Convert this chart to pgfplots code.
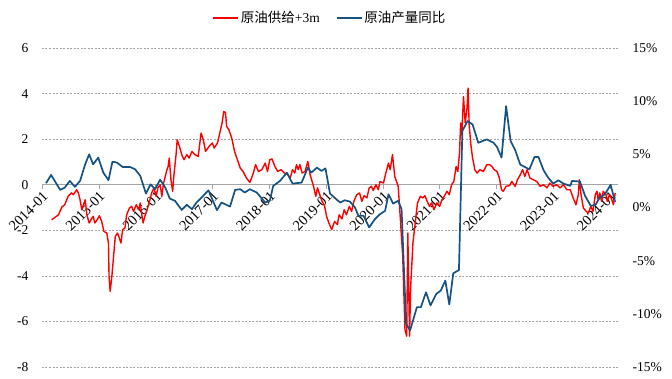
\documentclass[border=0pt]{standalone}
\usepackage{fontspec}
\setmainfont{Liberation Serif}
\newfontfamily\cjk{Noto Sans CJK SC}
\usepackage{pgfplots}
\usepackage{pgfplotstable}
\pgfplotsset{compat=1.18}
\definecolor{oilred}{RGB}{255,0,0}
\definecolor{oilblue}{RGB}{22,82,130}
\definecolor{gridgray}{RGB}{165,165,165}

\pgfplotstableread{
x y
2014.17 -1.54
2014.23 -1.43
2014.29 -1.32
2014.35 -0.98
2014.40 -0.88
2014.46 -0.51
2014.52 -0.36
2014.55 -0.44
2014.61 -0.22
2014.64 -0.36
2014.67 -0.66
2014.70 -1.10
2014.73 -0.88
2014.76 -0.66
2014.79 -1.32
2014.83 -1.68
2014.88 -1.46
2014.90 -1.39
2014.93 -1.68
2014.97 -1.54
2015.01 -1.36
2015.05 -1.61
2015.09 -2.05
2015.14 -2.12
2015.17 -2.56
2015.18 -4.02
2015.20 -4.68
2015.23 -4.02
2015.26 -3.14
2015.29 -2.27
2015.33 -2.12
2015.36 -2.34
2015.39 -2.56
2015.42 -1.97
2015.46 -1.90
2015.49 -1.32
2015.54 -1.02
2015.58 -0.95
2015.61 -1.17
2015.66 -0.88
2015.70 -1.10
2015.73 -0.80
2015.76 -1.39
2015.78 -1.68
2015.81 -1.39
2015.85 -1.10
2015.90 -0.66
2015.93 -0.36
2015.97 -0.14
2016.01 -0.51
2016.04 -0.14
2016.08 0.00
2016.11 -0.51
2016.14 0.07
2016.17 0.36
2016.20 0.66
2016.22 0.80
2016.24 1.17
2016.27 0.22
2016.30 -0.29
2016.32 0.36
2016.36 1.32
2016.38 1.97
2016.42 1.68
2016.46 1.32
2016.50 1.10
2016.55 1.32
2016.59 1.17
2016.64 1.46
2016.69 1.32
2016.75 1.24
2016.80 2.27
2016.84 1.97
2016.88 1.46
2016.94 1.68
2017.00 1.83
2017.03 1.61
2017.09 1.83
2017.13 2.27
2017.17 2.71
2017.20 3.21
2017.23 3.17
2017.25 2.56
2017.29 2.41
2017.34 2.05
2017.39 1.46
2017.43 1.17
2017.49 0.73
2017.54 0.58
2017.60 0.29
2017.66 0.10
2017.72 0.51
2017.76 0.88
2017.81 0.58
2017.87 0.66
2017.93 0.95
2017.97 0.58
2018.01 1.10
2018.05 1.13
2018.10 0.80
2018.15 0.58
2018.21 0.66
2018.27 0.51
2018.33 0.44
2018.37 0.29
2018.41 0.66
2018.45 0.51
2018.48 0.88
2018.51 0.66
2018.54 0.88
2018.58 0.51
2018.63 0.58
2018.68 1.02
2018.72 0.44
2018.78 -0.07
2018.82 -0.51
2018.85 -0.14
2018.89 -0.44
2018.93 -0.73
2018.97 -0.88
2019.01 -1.39
2019.05 -1.68
2019.10 -1.97
2019.15 -1.61
2019.20 -1.75
2019.23 -1.32
2019.28 -1.50
2019.32 -1.10
2019.36 -1.32
2019.41 -0.95
2019.45 -1.17
2019.49 -0.73
2019.54 -0.44
2019.59 -0.36
2019.63 -0.73
2019.67 -0.48
2019.72 -0.58
2019.76 -0.14
2019.80 -0.07
2019.83 -0.25
2019.88 0.00
2019.92 -0.22
2019.95 0.14
2020.01 0.07
2020.06 0.58
2020.10 0.95
2020.13 0.66
2020.17 1.32
2020.21 0.36
2020.27 -0.07
2020.30 -1.17
2020.35 -3.14
2020.39 -6.36
2020.42 -6.65
2020.44 -2.12
2020.47 -6.65
2020.49 -4.46
2020.53 -2.56
2020.57 -1.68
2020.61 -0.80
2020.66 -0.51
2020.70 -0.58
2020.74 -0.48
2020.78 -0.73
2020.82 -0.95
2020.86 -0.80
2020.90 -1.10
2020.95 -0.80
2021.00 -0.95
2021.04 -0.66
2021.08 -0.51
2021.13 -0.29
2021.17 -0.44
2021.21 0.00
2021.25 0.14
2021.29 0.80
2021.32 0.58
2021.35 1.39
2021.37 2.71
2021.39 2.19
2021.42 3.87
2021.45 2.71
2021.48 3.29
2021.50 4.24
2021.52 2.63
2021.55 1.75
2021.58 1.17
2021.62 0.66
2021.66 0.51
2021.71 0.66
2021.77 0.58
2021.83 0.88
2021.88 0.88
2021.92 0.80
2021.96 0.66
2022.01 0.58
2022.05 0.31
2022.09 -0.22
2022.12 -0.29
2022.17 -0.07
2022.23 -0.04
2022.27 0.14
2022.33 -0.07
2022.37 0.22
2022.42 0.44
2022.46 0.66
2022.50 0.36
2022.54 0.66
2022.59 0.29
2022.65 0.22
2022.71 0.14
2022.77 -0.07
2022.83 0.00
2022.89 -0.14
2022.94 0.07
2023.00 -0.07
2023.06 0.00
2023.12 -0.14
2023.18 0.00
2023.24 -0.22
2023.30 -0.22
2023.35 -0.58
2023.40 -0.88
2023.44 -0.44
2023.46 0.22
2023.49 -0.44
2023.53 -1.02
2023.58 -1.17
2023.62 -1.24
2023.66 -0.95
2023.70 -1.17
2023.74 -0.44
2023.77 -0.29
2023.79 -0.66
2023.82 -0.36
2023.85 -0.73
2023.88 -0.29
2023.93 -0.44
2023.95 -0.73
2023.99 -0.44
2024.02 -0.58
2024.06 -0.88
2024.09 -0.36
}\supply

\pgfplotstableread{
x y
2014.07 2.28
2014.16 3.06
2014.32 1.66
2014.40 1.87
2014.49 2.50
2014.58 1.94
2014.67 2.50
2014.76 4.06
2014.83 5.00
2014.90 4.06
2014.99 4.69
2015.08 3.28
2015.17 2.56
2015.24 4.31
2015.32 4.22
2015.42 3.81
2015.55 3.81
2015.64 3.59
2015.73 2.97
2015.83 1.31
2015.91 2.18
2015.99 1.72
2016.08 2.62
2016.17 1.87
2016.25 0.84
2016.34 0.63
2016.46 -0.23
2016.55 0.25
2016.64 -0.16
2016.72 0.47
2016.81 0.94
2016.93 1.62
2017.08 -0.25
2017.16 0.47
2017.31 0.09
2017.40 1.66
2017.49 1.72
2017.57 1.41
2017.66 1.72
2017.78 1.41
2017.93 0.47
2018.01 0.63
2018.07 2.03
2018.19 2.50
2018.31 3.28
2018.41 2.25
2018.57 2.34
2018.68 3.75
2018.74 3.28
2018.84 3.75
2018.92 3.44
2018.99 3.68
2019.07 1.31
2019.18 0.78
2019.25 0.47
2019.33 0.68
2019.42 0.56
2019.51 0.00
2019.57 -0.78
2019.66 -0.78
2019.76 -1.87
2019.86 -1.10
2019.95 -0.63
2020.04 -0.31
2020.10 1.25
2020.18 0.37
2020.27 0.63
2020.33 -0.16
2020.41 -10.94
2020.48 -11.56
2020.60 -9.37
2020.67 -9.37
2020.76 -7.97
2020.84 -9.21
2020.94 -8.13
2021.02 -7.81
2021.10 -6.87
2021.17 -9.12
2021.24 -6.19
2021.34 -5.88
2021.40 7.19
2021.49 8.13
2021.58 7.81
2021.68 6.09
2021.83 6.40
2021.95 6.09
2022.01 5.69
2022.09 4.69
2022.17 9.53
2022.25 6.25
2022.33 5.39
2022.42 4.03
2022.58 3.59
2022.67 4.75
2022.74 4.75
2022.83 3.50
2022.91 2.81
2023.00 2.25
2023.09 2.56
2023.18 2.25
2023.30 2.03
2023.33 2.50
2023.47 2.44
2023.56 1.10
2023.66 0.16
2023.74 0.22
2023.82 0.94
2023.91 1.25
2024.01 2.13
2024.09 0.53
}\output

\begin{document}
\begin{tikzpicture}
\pgfplotsset{
  base/.style={
    scale only axis, width=576pt, height=319pt,
    at={(42pt,11pt)}, anchor=south west,
    xmin=2014, xmax=2024.14,
    font=\fontsize{13.5pt}{16pt}\selectfont,
    clip=false,
  }
}
\begin{axis}[base,
  ymin=-8, ymax=6,
  ytick={-8,-6,-4,-2,0,2,4,6},
  yticklabels={-8,-6,-4,-2,0,2,4,6},
  axis x line=middle,
  axis y line=left,
  hide obscured x ticks=false,
  every inner x axis line/.append style={-},
  x axis line style={-, draw=gridgray, line width=0.8pt},
  y axis line style={draw=none},
  ytick style={draw=none},
  xtick={2014,2015,2016,2017,2018,2019,2020,2021,2022,2023,2024},
  xticklabels={2014-01,2015-01,2016-01,2017-01,2018-01,2019-01,2020-01,2021-01,2022-01,2023-01,2024-01},
  tick align=outside,
  major tick length=4pt,
  xtick style={draw=gridgray, line width=0.6pt},
  xticklabel style={rotate=45, anchor=north east, inner sep=1pt, font=\fontsize{14.5pt}{16pt}\selectfont},
  yticklabel style={xshift=-6pt},
  ymajorgrids,
  grid style={draw=gridgray, dash pattern=on 2pt off 1.5pt, line width=0.6pt},
]
\addplot[oilred, line width=1.4pt, line join=round] table[x=x, y=y] {\supply};
\end{axis}
\begin{axis}[base,
  ymin=-15, ymax=15,
  axis x line=none,
  axis y line=right,
  y axis line style={draw=none},
  ytick style={draw=none},
  ytick={-15,-10,-5,0,5,10,15},
  yticklabels={-15\%,-10\%,-5\%,0\%,5\%,10\%,15\%},
  yticklabel style={xshift=9pt},
  legend columns=2,
  legend image code/.code={\draw[#1] (0pt,0pt) -- (25pt,0pt);},
  legend style={draw=none, fill=none, at={(0.5,1.094)}, anchor=center,
    font=\fontsize{13.5pt}{16pt}\selectfont,
    /tikz/every even column/.append style={column sep=14pt}},
]
\addlegendimage{oilred, line width=1.4pt}
\addlegendentry{{\cjk 原油供给}+3m}
\addplot[oilblue, line width=1.7pt, line join=round] table[x=x, y=y] {\output};
\addlegendentry{{\cjk 原油产量同比}}
\end{axis}
\pgfresetboundingbox
\path[use as bounding box] (0,0) rectangle (672pt,378pt);
\end{tikzpicture}
\end{document}
